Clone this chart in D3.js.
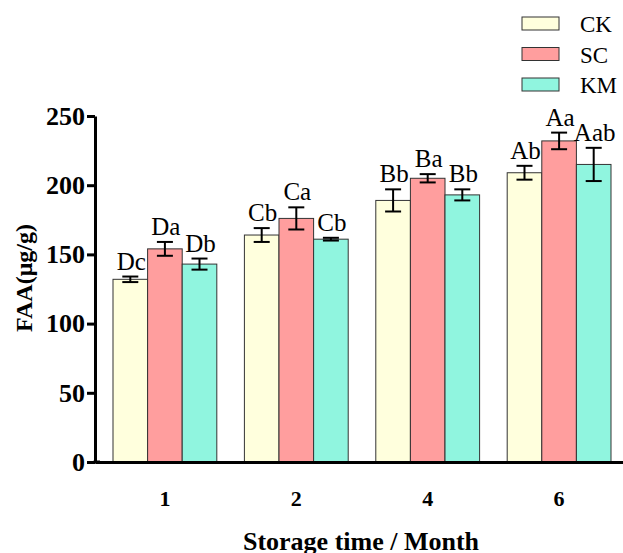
<!DOCTYPE html>
<html>
<head>
<meta charset="utf-8">
<script src="https://cdn.jsdelivr.net/npm/d3@7"></script>
<style>
  body { margin: 0; background: #fff; }
  svg { display: block; }
  svg text { font-family: "Liberation Serif", "Times New Roman", Times, "DejaVu Serif", serif !important; }
</style>
</head>
<body>
<svg id="chart" width="623" height="553"></svg>
<script>
// --- data
const months = ["1", "2", "4", "6"]
const series = ["CK", "SC", "KM"]
const ckMean = [132, 164, 189, 209]
const ckErr = [2, 5, 8, 5]
const scMean = [154, 176, 205, 232]
const scErr = [5, 8, 3, 6]
const kmMean = [143, 161, 193, 215]
const kmErr = [4, 1, 4, 12]
const ckLetters = ["Dc", "Cb", "Bb", "Ab"]
const scLetters = ["Da", "Ca", "Ba", "Aa"]
const kmLetters = ["Db", "Cb", "Bb", "Aab"]
const yTicks = [0, 50, 100, 150, 200, 250]

const colors = { CK: "#FFFFDD", SC: "#FF9E9E", KM: "#90F5DF" }
const serif = "'Liberation Serif', 'Times New Roman', Times, serif"

const rows = []
months.forEach((m, i) => {
    rows.push({ month: m, key: "CK", mean: ckMean[i], err: ckErr[i], letter: ckLetters[i] })
    rows.push({ month: m, key: "SC", mean: scMean[i], err: scErr[i], letter: scLetters[i] })
    rows.push({ month: m, key: "KM", mean: kmMean[i], err: kmErr[i], letter: kmLetters[i] })
})

const svg = d3.select("#chart").attr("font-family", serif)

const x0 = d3.scaleBand().domain(months).range([95, 629])
    .paddingInner(0.21).paddingOuter(0.137)
const x1 = d3.scaleBand().domain(series).range([0, x0.bandwidth()])
const y = d3.scaleLinear().domain([0, 250]).range([462, 116])

// --- bars
svg.append("g").selectAll("rect")
    .data(rows)
    .join("rect")
    .attr("x", d => x0(d.month) + x1(d.key))
    .attr("y", d => y(d.mean))
    .attr("width", x1.bandwidth())
    .attr("height", d => y(0) - y(d.mean))
    .attr("fill", d => colors[d.key])
    .attr("stroke", "#333")
    .attr("stroke-width", 1)

// --- error bars
const eb = svg.append("g").attr("stroke", "#000").attr("stroke-width", 2)
rows.forEach(d => {
    const cx = x0(d.month) + x1(d.key) + x1.bandwidth() / 2
    const top = y(d.mean + d.err), bot = y(d.mean - d.err)
    eb.append("line").attr("x1", cx).attr("x2", cx).attr("y1", top).attr("y2", bot)
    eb.append("line").attr("x1", cx - 8).attr("x2", cx + 8).attr("y1", top).attr("y2", top)
    eb.append("line").attr("x1", cx - 8).attr("x2", cx + 8).attr("y1", bot).attr("y2", bot)
})

// --- significance letters
svg.append("g").selectAll("text")
    .data(rows)
    .join("text")
    .attr("x", d => x0(d.month) + x1(d.key) + x1.bandwidth() / 2 + 1)
    .attr("y", d => y(d.mean + d.err) - 7)
    .attr("text-anchor", "middle")
    .attr("font-size", 25)
    .attr("fill", "#000")
    .text(d => d.letter)

// --- axes
const yAxis = svg.append("g")
    .attr("transform", "translate(95,0)")
    .call(d3.axisLeft(y).tickValues(yTicks).tickSize(8).tickPadding(2).tickSizeOuter(0))
    .attr("font-family", serif)
yAxis.select(".domain").attr("stroke-width", 3)
yAxis.selectAll(".tick line").attr("stroke-width", 3)
yAxis.selectAll(".tick text")
    .attr("font-size", 26).attr("font-weight", "bold").attr("fill", "#000")

const xAxis = svg.append("g")
    .attr("transform", "translate(0,462)")
    .call(d3.axisBottom(x0).tickSize(0).tickPadding(28).tickSizeOuter(0))
    .attr("font-family", serif)
xAxis.select(".domain").attr("stroke-width", 3)
xAxis.selectAll(".tick text")
    .attr("font-size", 22).attr("font-weight", "bold").attr("fill", "#000")

// corner join
svg.append("line").attr("x1", 93.5).attr("x2", 100).attr("y1", 462).attr("y2", 462)
    .attr("stroke", "#000").attr("stroke-width", 3)

// --- axis titles
svg.append("text")
    .attr("transform", "translate(32,278) rotate(-90)")
    .attr("text-anchor", "middle")
    .attr("font-size", 24).attr("font-weight", "bold")
    .text("FAA(μg/g)")

svg.append("text")
    .attr("x", 361).attr("y", 550)
    .attr("text-anchor", "middle")
    .attr("font-size", 26).attr("font-weight", "bold")
    .text("Storage time / Month")

// --- legend
const legend = svg.append("g").selectAll("g")
    .data(series)
    .join("g")
    .attr("transform", (d, i) => `translate(522,${17 + i * 30.5})`)
legend.append("rect")
    .attr("width", 37).attr("height", 13)
    .attr("fill", d => colors[d])
    .attr("stroke", "#333").attr("stroke-width", 1)
legend.append("text")
    .attr("x", 58).attr("y", 15)
    .attr("font-size", 23)
    .text(d => d)
</script>
</body>
</html>
